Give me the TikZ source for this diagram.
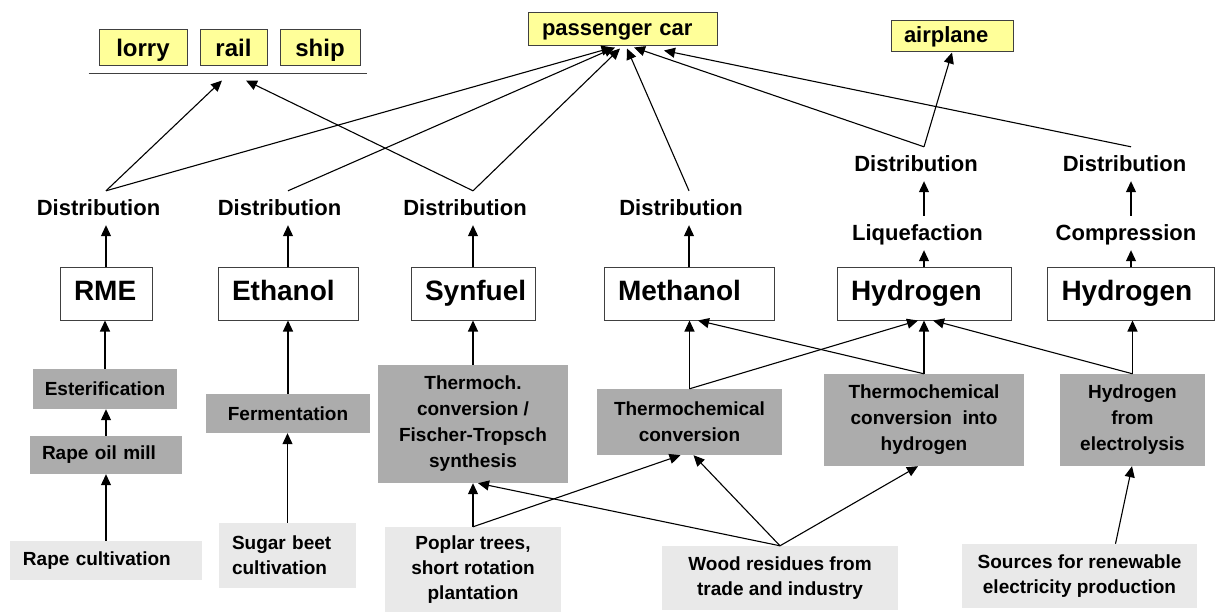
\documentclass[tikz,border=0pt]{standalone}
\usepackage{fontspec}
\setmainfont{Liberation Sans}
\usetikzlibrary{arrows.meta,calc}
\definecolor{dgray}{RGB}{172,172,172}
\definecolor{lgray}{RGB}{233,233,233}
\definecolor{ylw}{RGB}{255,255,153}
\definecolor{edgec}{RGB}{64,64,64}
\begin{document}
\begin{tikzpicture}[x=1pt,y=-1pt,
  ybox/.style={draw=edgec,line width=1pt,fill=ylw,inner sep=0pt,text height=18pt,text depth=0pt,font={\fontsize{24}{28}\selectfont\bfseries}},
  ybox2/.style={draw=edgec,line width=1pt,fill=ylw,inner ysep=0pt,align=left,text height=16pt,text depth=4pt,font={\fontsize{22}{26}\selectfont\bfseries}},
  prod/.style={draw=edgec,line width=1pt,fill=white,minimum height=52pt,inner ysep=0pt,inner xsep=14pt,align=left,text height=20pt,text depth=6pt,font={\fontsize{28}{32}\selectfont\bfseries}},
  dg/.style={fill=dgray,inner sep=0pt,align=center,font={\fontsize{19}{26}\selectfont\bfseries}},
  lg/.style={fill=lgray,inner sep=0pt,align=center,font={\fontsize{19}{25}\selectfont\bfseries}},
  lab/.style={inner xsep=0pt,inner ysep=9pt,text height=16pt,text depth=0pt,anchor=base,font={\fontsize{22}{26}\selectfont\bfseries}},
  arr/.style={-{Triangle[length=11pt,width=10pt]},line width=1.1pt,black}
]
\useasboundingbox (0,0) rectangle (1215,612);

% transport modes
\node[ybox,minimum width=88pt,minimum height=36pt] (lorry) at (143,48) {lorry};
\node[ybox,minimum width=67pt,minimum height=36pt] (rail) at (233.5,48) {rail};
\node[ybox,minimum width=80pt,minimum height=36pt] (ship) at (320,48) {ship};
\draw[edgec,line width=1.2pt] ($(lorry.south west)+(-10,7)$) -- ($(ship.south east)+(6,7)$);
\node[ybox2,text width=161pt,inner xsep=14pt,minimum height=33pt] (pc) at (622.5,29.5) {passenger car};
\node[ybox2,text width=96pt,inner xsep=13pt,minimum height=31pt] (air) at (952,36.5) {airplane};

% distribution labels
\node[lab] (d1) at (98.5,216) {Distribution};
\node[lab] (d2) at (279.5,216) {Distribution};
\node[lab] (d3) at (465,216) {Distribution};
\node[lab] (d4) at (681,216) {Distribution};
\node[lab] (d5) at (916,172) {Distribution};
\node[lab] (d6) at (1124.5,172) {Distribution};
\node[lab] (liq) at (917.5,241) {Liquefaction};
\node[lab] (comp) at (1126,241) {Compression};

% products
\node[prod,text width=64pt] (rme) at (106,294) {RME};
\node[prod,text width=112pt] (eth) at (288,294) {Ethanol};
\node[prod,text width=96pt] (syn) at (473,294) {Synfuel};
\node[prod,text width=142pt] (meth) at (689,294) {Methanol};
\node[prod,text width=146pt] (h1) at (924,294) {Hydrogen};
\node[prod,text width=139pt] (h2) at (1131,294) {Hydrogen};

% processes
\node[dg,minimum width=144pt,minimum height=40pt] (est) at (105,389) {Esterification};
\node[dg,minimum height=38pt,text width=128pt,inner xsep=12pt,align=left] (rom) at (106,455) {Rape oil mill};
\node[dg,minimum width=164pt,minimum height=39pt] (ferm) at (288,413.5) {Fermentation};
\node[dg,minimum width=190pt,minimum height=118pt] (tft) at (473,424) {Thermoch.\\conversion /\\Fischer-Tropsch\\synthesis};
\node[dg,minimum width=185pt,minimum height=66pt] (tc) at (689.5,422) {Thermochemical\\conversion};
\node[dg,minimum width=200pt,minimum height=92pt] (tch) at (924,420) {Thermochemical\\conversion\ \ into\\hydrogen};
\node[dg,minimum width=145pt,minimum height=92pt] (elec) at (1132.5,420) {Hydrogen\\from\\electrolysis};

% raw materials
\node[lg,minimum height=39pt,text width=166pt,inner xsep=13pt,align=left] (rc) at (106,560.5) {Rape cultivation};
\node[lg,minimum height=65pt,text width=111pt,inner xsep=13pt,align=left] (sb) at (287.5,555.5) {Sugar beet\\cultivation};
\node[lg,minimum width=176pt,minimum height=85pt] (pop) at (473,569.5) {Poplar trees,\\short rotation\\plantation};
\node[lg,minimum width=236pt,minimum height=64pt] (wood) at (780,578) {Wood residues from\\trade and industry};
\node[lg,minimum width=235pt,minimum height=64pt] (src) at (1079.5,576) {Sources for renewable\\electricity production};

% lower arrows
\draw[arr] (rc.north) -- (rc.north |- rom.south);
\draw[arr] (rom.north) -- (rom.north |- est.south);
\draw[arr] (est.north) -- (est.north |- rme.south);
\draw[arr] (sb.north) -- (sb.north |- ferm.south);
\draw[arr] (ferm.north) -- (ferm.north |- eth.south);
\draw[arr] (pop.north) -- (pop.north |- tft.south);
\draw[arr] (pop.north) -- ($(tc.south)+(-9,0)$);
\draw[arr] (wood.north) -- ($(tft.south)+(5,0)$);
\draw[arr] (wood.north) -- ($(tc.south)+(4,0)$);
\draw[arr] (wood.north) -- ($(tch.south)+(-6,0)$);
\draw[arr] ($(src.north)+(36,0)$) -- ($(elec.south)+(-0.5,0)$);
\draw[arr] (tft.north) -- (tft.north |- syn.south);
\draw[arr] (tc.north) -- (tc.north |- meth.south);
\draw[arr] (tc.north) -- ($(h1.south)+(-6,0)$);
\draw[arr] (tch.north) -- (tch.north |- h1.south);
\draw[arr] (tch.north) -- ($(meth.south)+(9,0)$);
\draw[arr] (elec.north) -- ($(h1.south)+(9,0)$);
\draw[arr] (elec.north) -- (elec.north |- h2.south);

% product to distribution
\draw[arr] (rme.north) -- (rme.north |- d1.south);
\draw[arr] (eth.north) -- (eth.north |- d2.south);
\draw[arr] (syn.north) -- (syn.north |- d3.south);
\draw[arr] (meth.north) -- (meth.north |- d4.south);
\draw[arr] (h1.north) -- (h1.north |- liq.south);
\draw[arr] (h1.north |- liq.north) -- (h1.north |- d5.south);
\draw[arr] (h2.north) -- (h2.north |- comp.south);
\draw[arr] (h2.north |- comp.north) -- (h2.north |- d6.south);

% distribution to transport modes
\coordinate (railL) at ($(rail.south)+(-11.5,14)$);
\coordinate (railR) at ($(rail.south)+(12.5,14)$);
\draw[arr] (rme.north |- d1.north) -- (railL);
\draw[arr] (rme.north |- d1.north) -- ($(pc.south)+(-10,1)$);
\draw[arr] (eth.north |- d2.north) -- ($(pc.south)+(-7.5,1)$);
\draw[arr] (syn.north |- d3.north) -- (railR);
\draw[arr] (syn.north |- d3.north) -- ($(pc.south)+(-2.5,2)$);
\draw[arr] (meth.north |- d4.north) -- ($(pc.south)+(4.5,2)$);
\draw[arr] (h1.north |- d5.north) -- (air.south);
\draw[arr] (h1.north |- d5.north) -- ($(pc.south)+(11.5,1)$);
\draw[arr] (h2.north |- d6.north) -- ($(pc.south)+(41.5,4)$);
\end{tikzpicture}
\end{document}
